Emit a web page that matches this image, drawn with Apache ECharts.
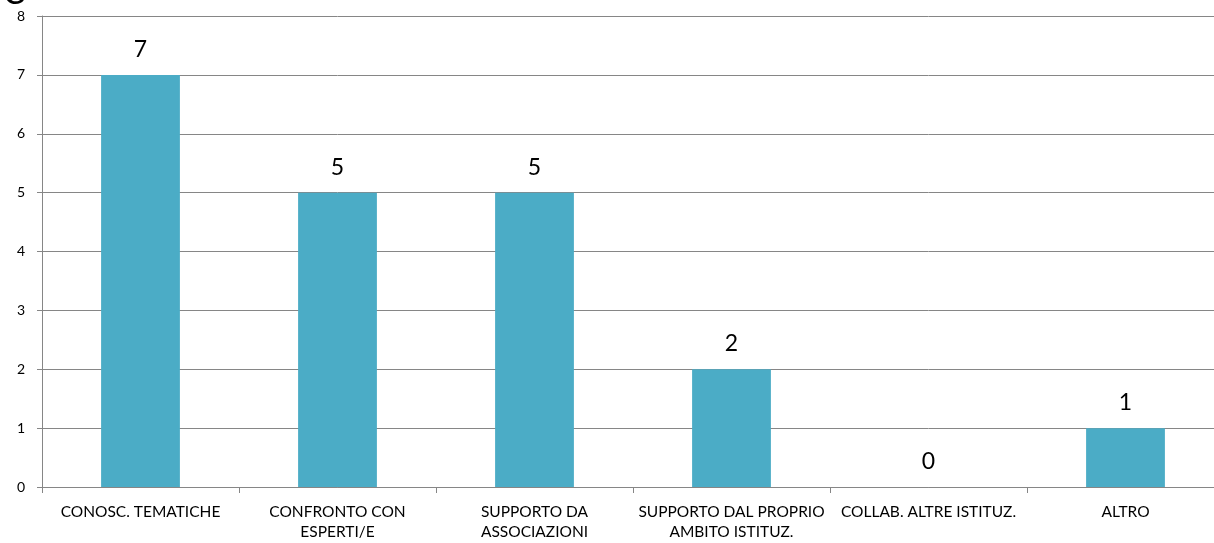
<!DOCTYPE html>
<html><head><meta charset="utf-8">
<script src="https://cdn.jsdelivr.net/npm/echarts@6/dist/echarts.min.js"></script>
<style>html,body{margin:0;padding:0;background:#fff;overflow:hidden}#c{width:1224px;height:543px}</style>
</head><body><div id="c"></div>
<script>
const categories = ["CONOSC. TEMATICHE", "CONFRONTO CON\nESPERTI/E", "SUPPORTO DA\nASSOCIAZIONI", "SUPPORTO DAL PROPRIO\nAMBITO ISTITUZ.", "COLLAB. ALTRE ISTITUZ.", "ALTRO"];
const values = [7, 5, 5, 2, 0, 1];
const yTicks = [0, 1, 2, 3, 4, 5, 6, 7, 8];
const titleText = "C";

const chart = echarts.init(document.getElementById('c'));
const font = 'Lato, "Open Sans", sans-serif';
chart.setOption({
  animation: false,
  title: { text: titleText, left: -2, top: -27, textStyle: { fontSize: 32, fontWeight: 'normal', color: '#000', fontFamily: font } },
  grid: { left: 42, right: 0, top: 16, bottom: 56, containLabel: false },
  xAxis: {
    type: 'category', data: categories,
    axisLine: { lineStyle: { color: '#868686', width: 1 } },
    axisTick: { show: true, length: 6, lineStyle: { color: '#868686' }, alignWithLabel: false },
    axisLabel: { color: '#000', fontSize: 15.5, fontFamily: font, margin: 15, lineHeight: 20, interval: 0 }
  },
  yAxis: {
    type: 'value', min: yTicks[0], max: yTicks[yTicks.length - 1], interval: 1,
    axisLine: { show: true, lineStyle: { color: '#868686' } },
    axisTick: { show: true, length: 5, lineStyle: { color: '#868686' } },
    splitLine: { lineStyle: { color: '#868686', width: 1 } },
    axisLabel: { color: '#000', fontSize: 14, fontFamily: font, margin: 17 }
  },
  series: [{
    type: 'bar', data: values, barWidth: '40%',
    itemStyle: { color: '#4BACC6' },
    label: { show: true, position: 'top', distance: 14, color: '#000', fontSize: 23, fontFamily: font }
  }]
});
</script></body></html>
